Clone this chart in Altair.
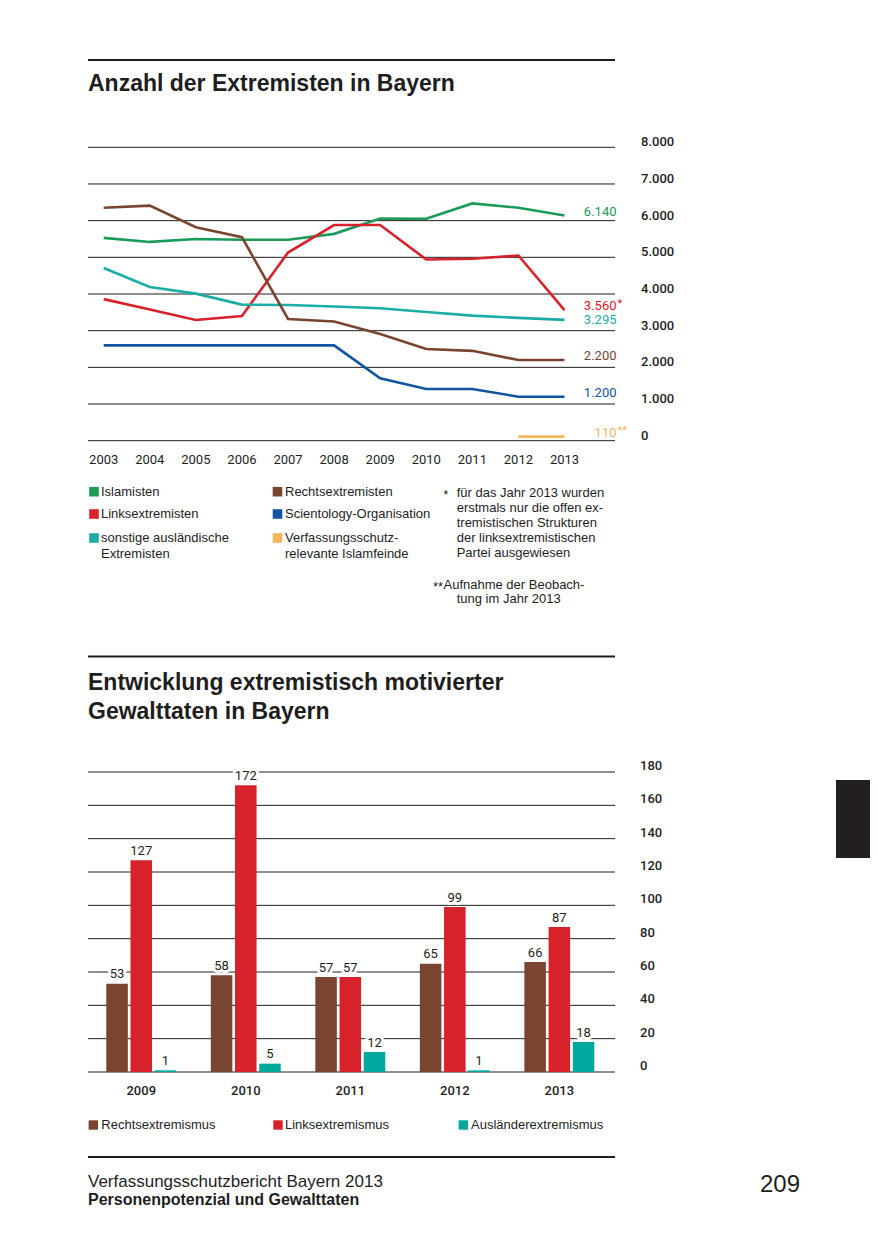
import altair as alt
import pandas as pd

# ---------------- data: Anzahl der Extremisten (line chart) ----------------
years = [2003, 2004, 2005, 2006, 2007, 2008, 2009, 2010, 2011, 2012, 2013]
islamisten = [5530, 5420, 5500, 5480, 5480, 5640, 6060, 6050, 6470, 6350, 6140]
linksextremisten = [3860, 3580, 3290, 3400, 5130, 5880, 5880, 4940, 4960, 5050, 3560]
sonstige_auslaendische = [4710, 4190, 4010, 3710, 3700, 3660, 3610, 3510, 3410, 3350, 3295]
rechtsextremisten = [6350, 6410, 5820, 5550, 3320, 3250, 2910, 2500, 2450, 2200, 2200]
scientology = [2600, 2600, 2600, 2600, 2600, 2600, 1700, 1410, 1410, 1200, 1200]
islamfeinde_years = [2012, 2013]
islamfeinde = [110, 110]

line_ticks = [0, 1000, 2000, 3000, 4000, 5000, 6000, 7000, 8000]
line_tick_labels = ["0", "1.000", "2.000", "3.000", "4.000", "5.000", "6.000", "7.000", "8.000"]

line_series = ["Islamisten", "Linksextremisten", "sonstige ausländische Extremisten",
               "Rechtsextremisten", "Scientology-Organisation",
               "Verfassungsschutzrelevante Islamfeinde"]
line_colors = ["#1b9a5a", "#d7222b", "#1aada6", "#7a4530", "#12559e", "#f5b560"]
legend_top_lines = [["Islamisten"], ["Linksextremisten"], ["sonstige ausländische", "Extremisten"],
                    ["Rechtsextremisten"], ["Scientology-Organisation"],
                    ["Verfassungsschutz-", "relevante Islamfeinde"]]
end_numbers = ["6.140", "3.560", "3.295", "2.200", "1.200", "110"]
end_suffix = ["", "*", "", "", "", "**"]

footnote1 = ["für das Jahr 2013 wurden", "erstmals nur die offen ex-", "tremistischen Strukturen",
             "der linksextremistischen", "Partei ausgewiesen"]
footnote2 = ["Aufnahme der Beobach-", "tung im Jahr 2013"]

# ---------------- data: Gewalttaten (bar chart) ----------------
bar_years = ["2009", "2010", "2011", "2012", "2013"]
bar_series = ["Rechtsextremismus", "Linksextremismus", "Ausländerextremismus"]
bar_colors = ["#7a4530", "#d7222b", "#00a99d"]
rechts_gew = [53, 58, 57, 65, 66]
links_gew = [127, 172, 57, 99, 87]
auslaender_gew = [1, 5, 12, 1, 18]
bar_ticks = [0, 20, 40, 60, 80, 100, 120, 140, 160, 180]
bar_tick_labels = [str(t) for t in bar_ticks]

# ---------------- build tables ----------------
line_values = [islamisten, linksextremisten, sonstige_auslaendische, rechtsextremisten, scientology]
rows = []
for name, col, vals in zip(line_series[:5], line_colors[:5], line_values):
    for y, v in zip(years, vals):
        rows.append({"series": name, "color": col, "year": y, "value": v})
for y, v in zip(islamfeinde_years, islamfeinde):
    rows.append({"series": line_series[5], "color": line_colors[5], "year": y, "value": v})
line_df = pd.DataFrame(rows)

end_df = pd.DataFrame({
    "series": line_series, "color": line_colors,
    "value": [vals[-1] for vals in line_values] + [islamfeinde[-1]],
    "num": end_numbers, "suffix": end_suffix,
})

brow = []
for s, c, vals in zip(bar_series, bar_colors, [rechts_gew, links_gew, auslaender_gew]):
    for y, v in zip(bar_years, vals):
        brow.append({"series": s, "color": c, "year": y, "value": v, "label": str(v)})
bar_df = pd.DataFrame(brow)

# ---------------- helpers ----------------
FONT = "Liberation Sans"
NUM = "Roboto"
INK = "#1e1e1e"


def blank():
    return alt.Chart(alt.Data(values=[{}]))


def text(s, x, y, size=13, weight="normal", font=FONT, align="left",
         color=INK, baseline="middle"):
    return blank().mark_text(text=s, font=font, fontSize=size, fontWeight=weight,
                             align=align, baseline=baseline, color=color).encode(
        x=alt.value(x), y=alt.value(y))


def hrule(y, width=2):
    return blank().mark_rule(color=INK, strokeWidth=width).encode(
        x=alt.value(80), x2=alt.value(607), y=alt.value(y))


layers = []

# section rules & titles
layers += [hrule(52), hrule(648.5), hrule(1149)]
layers.append(text("Anzahl der Extremisten in Bayern", 80, 82.7, size=23, weight="bold",
                   baseline="alphabetic"))
layers.append(text("Entwicklung extremistisch motivierter", 80, 682, size=23, weight="bold",
                   baseline="alphabetic"))
layers.append(text("Gewalttaten in Bayern", 80, 710.5, size=23, weight="bold",
                   baseline="alphabetic"))

# ---------------- line chart ----------------
ly = alt.Scale(domain=[0, 8000], range=[432.7, 139.3], nice=False, zero=False)
lx = alt.Scale(domain=[2003, 2013], range=[95.7, 556.5], nice=False, zero=False)

grid_l = pd.DataFrame({"v": line_ticks, "label": line_tick_labels})
layers.append(alt.Chart(grid_l).mark_rule(color=INK, strokeWidth=1).encode(
    y=alt.Y("v:Q", scale=ly, axis=None), x=alt.value(80), x2=alt.value(607)))
layers.append(alt.Chart(grid_l).mark_text(font=NUM, fontSize=13, fontWeight=500, align="left",
                                          baseline="middle", dy=-5, color=INK).encode(
    y=alt.Y("v:Q", scale=ly, axis=None), x=alt.value(633), text="label:N"))

layers.append(alt.Chart(line_df).mark_line(strokeWidth=2.6, strokeCap="butt").encode(
    x=alt.X("year:Q", scale=lx, axis=None),
    y=alt.Y("value:Q", scale=ly, axis=None),
    color=alt.Color("color:N", scale=None),
    detail="series:N",
))

label_dy = {"sonstige ausländische Extremisten": 0}
for s in line_series:
    sub = end_df[end_df.series == s]
    dy = label_dy.get(s, -4)
    layers.append(alt.Chart(sub).mark_text(font=NUM, fontSize=13, align="right",
                                           baseline="middle", dy=dy).encode(
        y=alt.Y("value:Q", scale=ly, axis=None), x=alt.value(608.5),
        text="num:N", color=alt.Color("color:N", scale=None)))
    if sub.suffix.iloc[0]:
        layers.append(alt.Chart(sub).mark_text(font=NUM, fontSize=11, align="left",
                                               baseline="middle", dy=dy - 2).encode(
            y=alt.Y("value:Q", scale=ly, axis=None), x=alt.value(609.5),
            text="suffix:N", color=alt.Color("color:N", scale=None)))

year_df = pd.DataFrame({"year": years, "label": [str(y) for y in years]})
layers.append(alt.Chart(year_df).mark_text(font=NUM, fontSize=13, baseline="middle",
                                           color=INK).encode(
    x=alt.X("year:Q", scale=lx, axis=None), y=alt.value(452), text="label:N"))

# legend (top)
sq_x = [86, 269.5]
tx_x = [93, 277]
row_y = [483.7, 506, 530]
for i, (lines, col) in enumerate(zip(legend_top_lines, line_colors)):
    c, r = i // 3, i % 3
    layers.append(blank().mark_square(size=92, color=col, opacity=1).encode(
        x=alt.value(sq_x[c]), y=alt.value(row_y[r])))
    for k, ln in enumerate(lines):
        layers.append(text(ln, tx_x[c], row_y[r] + 15.5 * k))

layers.append(text("*", 435.3, 487, size=13))
for k, ln in enumerate(footnote1):
    layers.append(text(ln, 448.7, 485 + 15 * k))
layers.append(text("**", 435, 579, size=13, align="right"))
layers.append(text(footnote2[0], 435.5, 577))
layers.append(text(footnote2[1], 448.7, 591))

# ---------------- bar chart ----------------
by = alt.Scale(domain=[0, 180], range=[1064, 764], nice=False)
bx = alt.Scale(domain=bar_years, range=[81, 603.6], paddingInner=0, paddingOuter=0)
bo = alt.Scale(domain=bar_series, paddingInner=0.11, paddingOuter=0.714)

grid_b = pd.DataFrame({"v": bar_ticks, "label": bar_tick_labels})
layers.append(alt.Chart(grid_b).mark_rule(color=INK, strokeWidth=1).encode(
    y=alt.Y("v:Q", scale=by, axis=None), x=alt.value(80), x2=alt.value(607)))
layers.append(alt.Chart(grid_b).mark_text(font=NUM, fontSize=13, fontWeight=500, align="left",
                                          baseline="middle", dy=-6, color=INK).encode(
    y=alt.Y("v:Q", scale=by, axis=None), x=alt.value(632), text="label:N"))

benc = dict(
    x=alt.X("year:N", scale=bx, axis=None),
    xOffset=alt.XOffset("series:N", scale=bo, sort=None),
    y=alt.Y("value:Q", scale=by, axis=None),
)
layers.append(alt.Chart(bar_df).mark_bar().encode(
    color=alt.Color("color:N", scale=None), **benc))
layers.append(alt.Chart(bar_df).mark_text(font=NUM, fontSize=13, baseline="alphabetic", dy=-5.5,
                                          stroke="white", strokeWidth=6, strokeJoin="round",
                                          color="white").encode(text="label:N", **benc))
layers.append(alt.Chart(bar_df).mark_text(font=NUM, fontSize=13, baseline="alphabetic", dy=-5.5,
                                          color=INK).encode(text="label:N", **benc))

byear_df = pd.DataFrame({"year": bar_years})
layers.append(alt.Chart(byear_df).mark_text(font=NUM, fontSize=13, fontWeight=500,
                                            baseline="middle", color=INK).encode(
    x=alt.X("year:N", scale=bx, axis=None), y=alt.value(1083), text="year:N"))

# legend (bottom)
bsq_x = [85.3, 270, 455.3]
btx_x = [93.3, 277, 463]
for i, (s, col) in enumerate(zip(bar_series, bar_colors)):
    layers.append(blank().mark_square(size=88, color=col, opacity=1).encode(
        x=alt.value(bsq_x[i]), y=alt.value(1117)))
    layers.append(text(s, btx_x[i], 1117))

# ---------------- footer ----------------
layers.append(text("Verfassungsschutzbericht Bayern 2013", 80, 1179, size=17, baseline="alphabetic"))
layers.append(text("Personenpotenzial und Gewalttaten", 80, 1197, size=16, weight="bold",
                   baseline="alphabetic"))
layers.append(text("209", 752, 1184, size=24, baseline="alphabetic"))
layers.append(blank().mark_rect(color="#231f20").encode(
    x=alt.value(828), x2=alt.value(864), y=alt.value(772), y2=alt.value(850)))

chart = alt.layer(*layers).resolve_scale(x="independent", y="independent").properties(
    width=862, height=1222, autosize="none", padding=0, background="white"
).configure_view(stroke=None)

chart.save("out.html", embed_options={"renderer": "svg", "actions": False})
